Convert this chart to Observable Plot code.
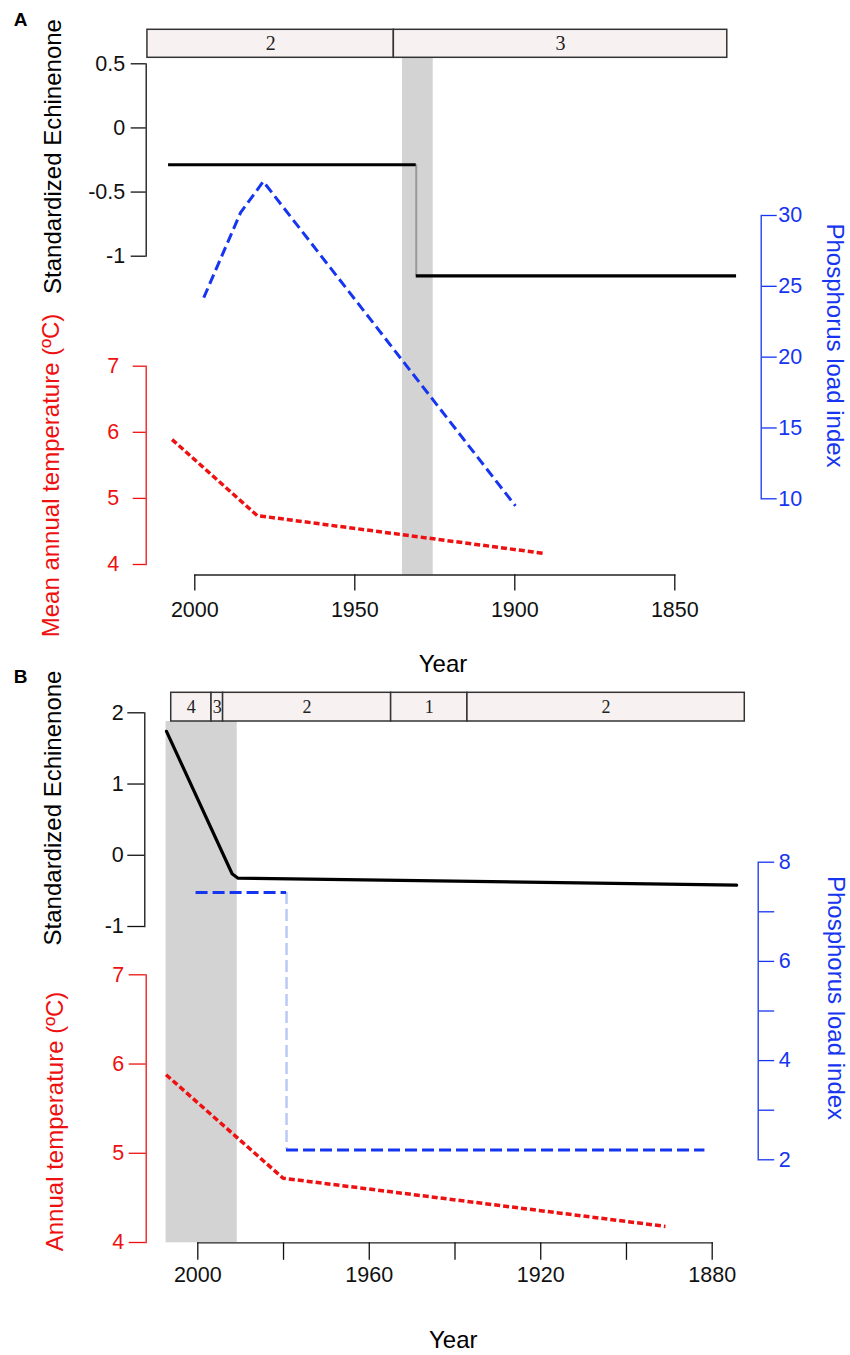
<!DOCTYPE html>
<html>
<head>
<meta charset="utf-8">
<script src="https://cdn.jsdelivr.net/npm/d3@7"></script>
<script src="https://cdn.jsdelivr.net/npm/@observablehq/plot@0.6"></script>
<style>
  body { margin: 0; background: #fff; }
  #wrap { position: relative; width: 850px; height: 1355px; background: #fff; }
  #wrap svg { position: absolute; left: 0; top: 0; overflow: visible; }
</style>
</head>
<body>
<div id="wrap"></div>
<script>
// ---------------- DATA ----------------
// Panel A
const yearTicksA = [2000, 1950, 1900, 1850];
const zoneBreaksA = [2014.8, 1937.8, 1833.6];
const zoneLabelsA = ["2", "3"];
const bandA = [1935.1, 1925.5];
const echinStepYearsA = [2008.2, 1930.8, 1830.7];
const echinStepValuesA = [-0.287, -1.154];
const echinTicksA = [-1, -0.5, 0, 0.5];
const phosYearsA = [1997.2, 1985.7, 1978.6, 1899.8];
const phosValuesA = [24.2, 30.2, 32.4, 9.5];
const phosTicksA = [10, 15, 20, 25, 30];
const tempYearsA = [2007.1, 1980.5, 1891.1];
const tempValuesA = [5.89, 4.74, 4.17];
const tempTicksA = [4, 5, 6, 7];

// Panel B
const yearTicksB = [2000, 1980, 1960, 1940, 1920, 1900, 1880];
const yearLabelsB = [2000, 1960, 1920, 1880];
const zoneBreaksB = [2006.2, 1996.8, 1994.1, 1954.9, 1937.1, 1872.4];
const zoneLabelsB = ["4", "3", "2", "1", "2"];
const bandB = [2007.4, 1990.8];
const echinYearsB = [2007.3, 1992.0, 1990.7, 1874.3];
const echinValuesB = [1.74, -0.26, -0.32, -0.42];
const echinTicksB = [-1, 0, 1, 2];
const phosStepYearsB = [2000.4, 1979.3, 1881.7];
const phosStepValuesB = [7.39, 2.2];
const phosTicksB = [2, 3, 4, 5, 6, 7, 8];
const phosLabelTicksB = [2, 4, 6, 8];
const tempYearsB = [2007.4, 1980.1, 1890.9];
const tempValuesB = [5.88, 4.72, 4.18];
const tempTicksB = [4, 5, 6, 7];

// ---------------- HELPERS ----------------
const W = 850, H = 1355;
const FONT = "Liberation Sans, Arial, Helvetica, sans-serif";
const SERIF = "Liberation Serif, Times New Roman, serif";
const BLUE = "#1535f0", LIGHTBLUE = "#bcc8f6", RED = "#ee1111", BAND = "#d4d3d4";
const ZONEFILL = "#f7f1f1";
const TICKFONT = 21.5;
const wrap = document.getElementById("wrap");

function layer({left = 0, right = 0, top = 0, bottom = H, x, y, marks}) {
  const p = Plot.plot({
    width: W, height: H,
    marginLeft: left, marginRight: right, marginTop: top, marginBottom: H - bottom,
    x, y, marks,
    style: {background: "transparent", overflow: "visible", fontFamily: FONT}
  });
  wrap.appendChild(p);
}
const zones = (breaks, labels) => labels.map((l, i) => ({x1: breaks[i], x2: breaks[i + 1], mid: (breaks[i] + breaks[i + 1]) / 2, label: l}));
const series = (xs, ys) => xs.map((x, i) => ({year: x, value: ys[i]}));
const steps = (xs, vs) => vs.map((v, i) => ({x1: xs[i], x2: xs[i + 1], y: v}));
const fmt = d => String(d);

function panel(cfg) {
  const xs = {domain: [cfg.xTicks[0], cfg.xTicks[cfg.xTicks.length - 1]], range: cfg.xRange, axis: null};
  // band + x axis
  layer({
    left: cfg.xRange[0], right: W - cfg.xRange[1], top: cfg.barBottom, bottom: cfg.xAxisY,
    x: {domain: xs.domain, range: cfg.xRange},
    marks: [
      Plot.rect([cfg.band], {x1: d => d[0], x2: d => d[1], fill: BAND}),
      Plot.frame({anchor: "bottom", stroke: "#222", strokeWidth: 1.3}),
      Plot.axisX({ticks: cfg.xTicks, tickSize: cfg.xTickSize, tickPadding: cfg.xTickPad, fontSize: TICKFONT,
        tickFormat: d => cfg.xLabels.includes(d) ? String(d) : "", label: null, color: "#111", strokeWidth: 1.3})
    ]
  });
  // zone bar
  layer({
    top: cfg.barTop, bottom: cfg.barBottom, x: xs,
    marks: [
      Plot.rect(cfg.zones, {x1: "x1", x2: "x2", fill: ZONEFILL, stroke: "#333", strokeWidth: 1.5}),
      Plot.text(cfg.zones, {x: "mid", text: "label", frameAnchor: "middle", fontFamily: SERIF, fontSize: cfg.zoneFont, fill: "#222"})
    ]
  });
  // Echinenone
  layer({
    left: cfg.echin.axisX, top: cfg.echin.top, bottom: cfg.echin.bottom, x: xs,
    y: {domain: [cfg.echin.ticks[0], cfg.echin.ticks[cfg.echin.ticks.length - 1]]},
    marks: [
      Plot.frame({anchor: "left", stroke: "#111", strokeWidth: 1.3}),
      Plot.axisY({anchor: "left", ticks: cfg.echin.ticks, tickSize: cfg.echin.tickSize, tickPadding: cfg.echin.pad,
        fontSize: TICKFONT, tickFormat: fmt, label: null, color: "#111", strokeWidth: 1.3}),
      ...cfg.echinMarks
    ]
  });
  // Phosphorus
  layer({
    right: W - cfg.phos.axisX, top: cfg.phos.top, bottom: cfg.phos.bottom, x: xs,
    y: {domain: [cfg.phos.ticks[0], cfg.phos.ticks[cfg.phos.ticks.length - 1]]},
    marks: [
      Plot.frame({anchor: "right", stroke: BLUE, strokeWidth: 1.3}),
      Plot.axisY({anchor: "right", ticks: cfg.phos.ticks, tickSize: cfg.phos.tickSize, tickPadding: cfg.phos.pad,
        fontSize: TICKFONT, tickFormat: cfg.phos.format, label: null, color: BLUE, strokeWidth: 1.3}),
      ...cfg.phosMarks
    ]
  });
  // Temperature
  layer({
    left: cfg.temp.axisX, top: cfg.temp.top, bottom: cfg.temp.bottom, x: xs,
    y: {domain: [cfg.temp.ticks[0], cfg.temp.ticks[cfg.temp.ticks.length - 1]]},
    marks: [
      Plot.frame({anchor: "left", stroke: RED, strokeWidth: 1.3}),
      Plot.axisY({anchor: "left", ticks: cfg.temp.ticks, tickSize: cfg.temp.tickSize, tickPadding: cfg.temp.pad,
        fontSize: TICKFONT, tickFormat: fmt, label: null, color: RED, strokeWidth: 1.3}),
      Plot.line(cfg.tempData, {x: "year", y: "value", stroke: RED, strokeWidth: 3.5, strokeDasharray: "6,3", strokeLinecap: "butt", strokeLinejoin: "miter"})
    ]
  });
}

// ---------------- PANEL A ----------------
const echinSegsA = steps(echinStepYearsA, echinStepValuesA);
panel({
  xTicks: yearTicksA, xLabels: yearTicksA, xRange: [194.3, 674.3], xAxisY: 574.5, xTickSize: 16, xTickPad: 11,
  band: bandA, barTop: 29.3, barBottom: 57.3, zones: zones(zoneBreaksA, zoneLabelsA), zoneFont: 20,
  echin: {axisX: 145.7, top: 63.3, bottom: 255.7, ticks: echinTicksA, tickSize: 15, pad: 6},
  echinMarks: [
    Plot.ruleX([{x: echinStepYearsA[1], y1: echinStepValuesA[0], y2: echinStepValuesA[1]}], {x: "x", y1: "y1", y2: "y2", stroke: "#9a9a9a", strokeWidth: 2}),
    Plot.ruleY(echinSegsA, {x1: "x1", x2: "x2", y: "y", stroke: "#000", strokeWidth: 3.2})
  ],
  phos: {axisX: 760.7, top: 215, bottom: 498.3, ticks: phosTicksA, tickSize: 15, pad: 2, format: fmt},
  phosMarks: [
    Plot.line(series(phosYearsA, phosValuesA), {x: "year", y: "value", stroke: BLUE, strokeWidth: 3, strokeDasharray: "10,5", strokeLinecap: "butt", strokeLinejoin: "miter"})
  ],
  temp: {axisX: 145.7, top: 365.7, bottom: 564, ticks: tempTicksA, tickSize: 13, pad: 14},
  tempData: series(tempYearsA, tempValuesA)
});

// ---------------- PANEL B ----------------
panel({
  xTicks: yearTicksB, xLabels: yearLabelsB, xRange: [197.3, 711.7], xAxisY: 1242.3, xTickSize: 17.5, xTickPad: 6,
  band: bandB, barTop: 692.3, barBottom: 721, zones: zones(zoneBreaksB, zoneLabelsB), zoneFont: 18,
  echin: {axisX: 144.3, top: 712.3, bottom: 926, ticks: echinTicksB, tickSize: 17, pad: 4},
  echinMarks: [
    Plot.line(series(echinYearsB, echinValuesB), {x: "year", y: "value", stroke: "#000", strokeWidth: 3.2, strokeLinejoin: "round"})
  ],
  phos: {axisX: 757.7, top: 861.7, bottom: 1159.3, ticks: phosTicksB, tickSize: 15.5, pad: 5,
    format: d => phosLabelTicksB.includes(d) ? String(d) : ""},
  phosMarks: [
    Plot.ruleX([{x: phosStepYearsB[1], y1: phosStepValuesB[0], y2: phosStepValuesB[1]}], {x: "x", y1: "y1", y2: "y2", stroke: LIGHTBLUE, strokeWidth: 2.5, strokeDasharray: "12,5"}),
    Plot.ruleY(steps(phosStepYearsB, phosStepValuesB), {x1: "x1", x2: "x2", y: "y", stroke: BLUE, strokeWidth: 3, strokeDasharray: "12,5"})
  ],
  temp: {axisX: 145.7, top: 974.3, bottom: 1242, ticks: tempTicksB, tickSize: 17, pad: 5},
  tempData: series(tempYearsB, tempValuesB)
});

// ---------------- TITLES ----------------
const T = (t, dx, dy, o = {}) => Plot.text([t], {frameAnchor: "top-left", dx, dy, text: d => d, textAnchor: "middle", lineAnchor: "middle", fontSize: 24, fill: "#000", fontFamily: FONT, ...o});
layer({
  marks: [
    T("A", 20, 19.5, {fontSize: 19, fontWeight: "bold"}),
    T("Standardized Echinenone", 53, 156, {rotate: -90}),
    T("Mean annual temperature (ºC)", 50.5, 475, {rotate: -90, fill: RED}),
    T("Phosphorus load index", 834, 345, {rotate: 90, fill: BLUE}),
    T("Year", 442.5, 663.5),
    T("B", 20, 676.7, {fontSize: 19, fontWeight: "bold"}),
    T("Standardized Echinenone", 52.5, 807.5, {rotate: -90}),
    T("Annual temperature (ºC)", 55, 1121, {rotate: -90, fill: RED}),
    T("Phosphorus load index", 835, 997.5, {rotate: 90, fill: BLUE}),
    T("Year", 452.8, 1340)
  ]
});
</script>
</body>
</html>
